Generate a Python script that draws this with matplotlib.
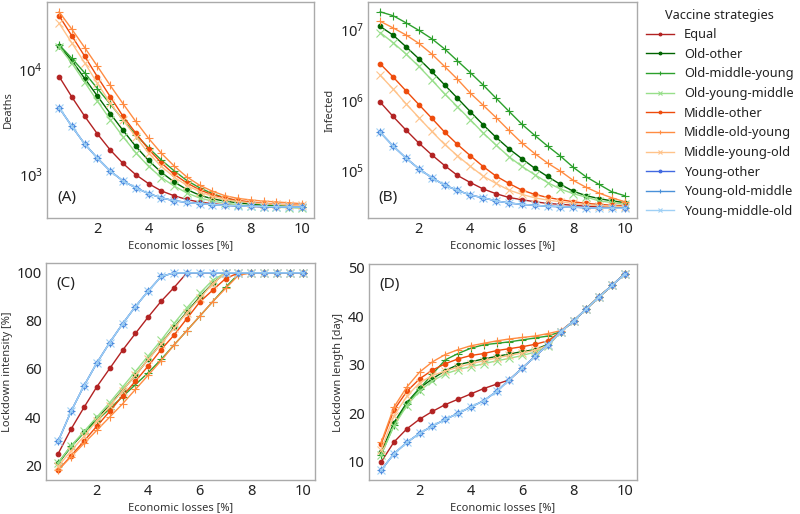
import matplotlib
matplotlib.use("Agg")
import matplotlib.pyplot as plt
import numpy as np

plt.rcParams['font.family'] = ['Noto Sans', 'DejaVu Sans']

x = [0.5, 1.0, 1.5, 2.0, 2.5, 3.0, 3.5, 4.0, 4.5, 5.0,
     5.5, 6.0, 6.5, 7.0, 7.5, 8.0, 8.5, 9.0, 9.5, 10.0]

strategies = ["Equal", "Old-other", "Old-middle-young", "Old-young-middle",
              "Middle-other", "Middle-old-young", "Middle-young-old",
              "Young-other", "Young-old-middle", "Young-middle-old"]

# Panel A: deaths
deaths_equal = [8590, 5480, 3600, 2440, 1720, 1280, 1000, 822, 701, 630,
                581, 548, 530, 515, 505, 500, 495, 493, 490, 488]
deaths_old_other = [16900, 12150, 8230, 5600, 3820, 2640, 1860, 1365, 1052, 853,
                    722, 638, 589, 560, 540, 525, 515, 505, 500, 495]
deaths_old_middle_young = [17200, 12800, 9300, 6600, 4700, 3350, 2400, 1800, 1380, 1090,
                           880, 750, 660, 600, 560, 535, 520, 510, 500, 495]
deaths_old_young_middle = [16500, 11500, 7600, 5000, 3350, 2300, 1620, 1200, 940, 780,
                           670, 600, 560, 535, 520, 505, 497, 490, 485, 480]
deaths_middle_other = [32500, 20900, 13400, 8530, 5530, 3600, 2490, 1746, 1297, 1007,
                       835, 718, 643, 600, 570, 550, 535, 525, 518, 512]
deaths_middle_old_young = [35500, 24200, 16200, 10750, 7070, 4740, 3210, 2220, 1600, 1210,
                           951, 793, 696, 630, 595, 575, 560, 550, 540, 530]
deaths_middle_young_old = [27600, 17900, 11600, 7400, 4800, 3300, 2300, 1600, 1200, 950,
                           790, 690, 620, 580, 555, 540, 530, 522, 515, 510]
deaths_young = [4350, 2880, 1960, 1437, 1083, 872, 750, 661, 602, 565,
                545, 530, 520, 510, 505, 500, 497, 495, 493, 492]

# Panel B: infected
inf_equal = [9.4e5, 5.9e5, 3.8e5, 2.49e5, 1.7e5, 1.2e5, 8.7e4, 6.9e4, 5.6e4, 4.8e4,
             4.25e4, 3.95e4, 3.7e4, 3.5e4, 3.4e4, 3.3e4, 3.2e4, 3.15e4, 3.1e4, 3.05e4]
inf_old_other = [1.1e7, 8.3e6, 5.7e6, 3.85e6, 2.55e6, 1.65e6, 1.07e6, 6.9e5, 4.5e5, 3.0e5,
                 2.07e5, 1.5e5, 1.1e5, 8.4e4, 6.5e4, 5.2e4, 4.5e4, 4.1e4, 3.8e4, 3.6e4]
inf_old_middle_young = [1.77e7, 1.56e7, 1.24e7, 9.7e6, 7.4e6, 5.3e6, 3.6e6, 2.45e6, 1.64e6, 1.07e6,
                        7.0e5, 4.6e5, 3.2e5, 2.26e5, 1.63e5, 1.13e5, 8.3e4, 6.5e4, 5.1e4, 4.5e4]
inf_old_young_middle = [9.0e6, 6.5e6, 4.5e6, 3.0e6, 1.94e6, 1.23e6, 8.1e5, 5.3e5, 3.45e5, 2.33e5,
                        1.6e5, 1.17e5, 8.9e4, 6.9e4, 5.6e4, 4.8e4, 4.3e4, 3.8e4, 3.6e4, 3.4e4]
inf_middle_other = [3.26e6, 2.13e6, 1.36e6, 8.7e5, 5.6e5, 3.56e5, 2.38e5, 1.65e5, 1.16e5, 8.5e4,
                    6.7e4, 5.4e4, 4.7e4, 4.25e4, 3.95e4, 3.7e4, 3.5e4, 3.4e4, 3.3e4, 3.25e4]
inf_middle_old_young = [1.3e7, 1.05e7, 8.35e6, 6.35e6, 4.5e6, 3.0e6, 1.98e6, 1.26e6, 8.5e5, 5.7e5,
                        3.75e5, 2.5e5, 1.77e5, 1.3e5, 1.0e5, 7.4e4, 5.9e4, 4.9e4, 4.2e4, 3.7e4]
inf_middle_young_old = [2.25e6, 1.44e6, 8.95e5, 5.7e5, 3.64e5, 2.38e5, 1.65e5, 1.17e5, 8.5e4, 6.7e4,
                        5.4e4, 4.7e4, 4.2e4, 3.9e4, 3.7e4, 3.5e4, 3.35e4, 3.25e4, 3.2e4, 3.15e4]
inf_young = [3.53e5, 2.26e5, 1.53e5, 1.08e5, 8.1e4, 6.35e4, 5.35e4, 4.6e4, 4.2e4, 3.8e4,
             3.55e4, 3.4e4, 3.3e4, 3.2e4, 3.15e4, 3.1e4, 3.05e4, 3.0e4, 3.0e4, 3.0e4]

# Panel C: lockdown intensity [%]
int_equal = [24.8, 35.0, 44.0, 52.6, 60.2, 67.8, 74.8, 81.7, 88.2, 93.9,
             100, 100, 100, 100, 100, 100, 100, 100, 100, 100]
int_old_other = [20.7, 27.6, 33.6, 39.4, 44.9, 51.2, 57.4, 64.1, 70.6, 77.3,
                 83.8, 90.0, 95.6, 100, 100, 100, 100, 100, 100, 100]
int_old_middle_young = [21.0, 28.0, 33.5, 38.5, 43.5, 48.5, 53.5, 58.5, 64.0, 70.0,
                        76.0, 82.0, 88.0, 94.0, 99.5, 100, 100, 100, 100, 100]
int_old_young_middle = [21.0, 28.0, 34.0, 40.0, 46.0, 52.5, 59.0, 65.5, 72.0, 79.0,
                        85.5, 91.5, 97.0, 100, 100, 100, 100, 100, 100, 100]
int_middle_other = [17.9, 23.9, 30.0, 36.2, 42.4, 48.8, 54.9, 61.3, 68.1, 74.1,
                    81.0, 87.9, 92.8, 97.6, 100, 100, 100, 100, 100, 100]
int_middle_old_young = [18.0, 23.5, 29.0, 34.5, 40.0, 45.5, 51.5, 57.5, 63.5, 70.0,
                        76.0, 82.0, 88.0, 93.5, 99.0, 100, 100, 100, 100, 100]
int_middle_young_old = [19.5, 26.0, 32.0, 38.5, 44.5, 51.0, 57.5, 64.0, 70.5, 77.0,
                        83.5, 89.5, 95.5, 100, 100, 100, 100, 100, 100, 100]
int_young = [30.0, 42.4, 53.0, 62.5, 71.0, 78.8, 86.0, 92.5, 98.5, 100,
             100, 100, 100, 100, 100, 100, 100, 100, 100, 100]

# Panel D: lockdown length [day]
len_young = [8.3, 11.7, 14.0, 15.9, 17.4, 18.75, 20.0, 21.3, 22.6, 24.5,
             26.9, 29.3, 31.7, 34.1, 36.8, 39.0, 41.5, 44.0, 46.3, 48.7]
len_equal = [10.0, 14.1, 16.8, 18.8, 20.4, 21.8, 22.9, 24.0, 25.1, 26.0,
             26.9, 29.3, 31.7, 34.1, 36.8, 39.0, 41.5, 44.0, 46.3, 48.7]
len_old_other = [12.0, 18.1, 22.2, 25.2, 27.1, 28.8, 30.0, 30.6, 31.2, 31.7,
                 32.2, 32.7, 33.1, 34.2, 36.8, 39.0, 41.5, 44.0, 46.3, 48.7]
len_old_middle_young = [11.5, 17.6, 21.9, 25.1, 28.1, 31.0, 32.3, 33.4, 34.1, 34.4,
                        34.7, 35.1, 35.5, 35.9, 36.8, 39.0, 41.5, 44.0, 46.3, 48.7]
len_old_young_middle = [11.5, 17.4, 21.6, 24.6, 26.7, 28.1, 29.0, 29.6, 30.2, 30.8,
                        31.3, 31.9, 32.6, 33.8, 36.8, 39.0, 41.5, 44.0, 46.3, 48.7]
len_middle_other = [13.7, 20.7, 24.5, 27.1, 28.9, 30.2, 31.2, 31.9, 32.3, 32.9,
                    33.3, 33.7, 34.2, 34.9, 36.8, 39.0, 41.5, 44.0, 46.3, 48.7]
len_middle_old_young = [14.0, 21.3, 25.4, 28.5, 30.6, 32.1, 33.1, 33.9, 34.4, 34.9,
                        35.3, 35.6, 35.9, 36.4, 37.0, 39.0, 41.5, 44.0, 46.3, 48.7]
len_middle_young_old = [12.5, 19.5, 23.5, 26.3, 27.8, 28.7, 29.5, 30.2, 30.8, 31.4,
                        31.9, 32.4, 33.0, 34.0, 36.8, 39.0, 41.5, 44.0, 46.3, 48.7]

deaths = [deaths_equal, deaths_old_other, deaths_old_middle_young, deaths_old_young_middle,
          deaths_middle_other, deaths_middle_old_young, deaths_middle_young_old,
          deaths_young, deaths_young, deaths_young]
infected = [inf_equal, inf_old_other, inf_old_middle_young, inf_old_young_middle,
            inf_middle_other, inf_middle_old_young, inf_middle_young_old,
            inf_young, inf_young, inf_young]
intensity = [int_equal, int_old_other, int_old_middle_young, int_old_young_middle,
             int_middle_other, int_middle_old_young, int_middle_young_old,
             int_young, int_young, int_young]
length = [len_equal, len_old_other, len_old_middle_young, len_old_young_middle,
          len_middle_other, len_middle_old_young, len_middle_young_old,
          len_young, len_young, len_young]

colors = ['#b22222', '#006400', '#2ca02c', '#98df8a',
          '#ee4b0b', '#ff8c42', '#ffc38a',
          '#4169e1', '#4a90d9', '#9fd0f5']
markers = ['o', 'o', '+', 'x', 'o', '+', 'x', 'o', '+', 'x']

W, H = 800, 514
fig = plt.figure(figsize=(W / 100, H / 100), dpi=100)

def rect(x0, y0, x1, y1):
    return [x0 / W, 1 - y1 / H, (x1 - x0) / W, (y1 - y0) / H]

axA = fig.add_axes(rect(47, 2, 314, 218))
axB = fig.add_axes(rect(368, 2, 637, 218))
axC = fig.add_axes(rect(46, 263, 315, 480))
axD = fig.add_axes(rect(369, 264, 637, 480))

panels = [(axA, deaths, 'Deaths', '(A)', True, 'bottom'),
          (axB, infected, 'Infected', '(B)', True, 'bottom'),
          (axC, intensity, 'Lockdown intensity [%]', '(C)', False, 'top'),
          (axD, length, 'Lockdown length [day]', '(D)', False, 'top')]

handles = []
for ax, data, ylabel, tag, logy, tagpos in panels:
    hs = []
    for i, name in enumerate(strategies):
        ms = 3.3 if markers[i] == 'o' else 5.5
        h, = ax.plot(x, data[i], color=colors[i], marker=markers[i], markersize=ms,
                     linewidth=1.0, markeredgewidth=0.8, label=name)
        hs.append(h)
    if not handles:
        handles = hs
    if logy:
        ax.set_yscale('log')
        ax.tick_params(which='minor', length=0)
    ax.set_xticks([2, 4, 6, 8, 10])
    ax.set_xlabel('Economic losses [%]', fontsize=8, color='#333333', labelpad=2)
    ax.set_ylabel(ylabel, fontsize=8, color='#333333', labelpad=3)
    ax.tick_params(axis='both', which='major', length=0, labelsize=10.5,
                   labelcolor='#222222', pad=3)
    for s in ax.spines.values():
        s.set_color('#aaaaaa')
        s.set_linewidth(1.0)
    if tagpos == 'bottom':
        ax.text(0.04, 0.06, tag, transform=ax.transAxes, fontsize=11, color='#222222',
                va='bottom', ha='left')
    else:
        ax.text(0.04, 0.94, tag, transform=ax.transAxes, fontsize=11, color='#222222',
                va='top', ha='left')

axC.set_yticks([20, 40, 60, 80, 100])
axD.set_yticks([10, 20, 30, 40, 50])

leg = fig.legend(handles=handles, labels=strategies, loc='upper left',
                 bbox_to_anchor=(634 / W, 1 + 3 / H), frameon=False,
                 title='Vaccine strategies', fontsize=9.2, title_fontsize=9.2,
                 handlelength=2.2, labelspacing=0.52, handletextpad=0.8,
                 markerscale=0.6)
for t in leg.get_texts():
    t.set_color('#222222')
leg.get_title().set_color('#222222')

fig.savefig('out.png', dpi=100)
